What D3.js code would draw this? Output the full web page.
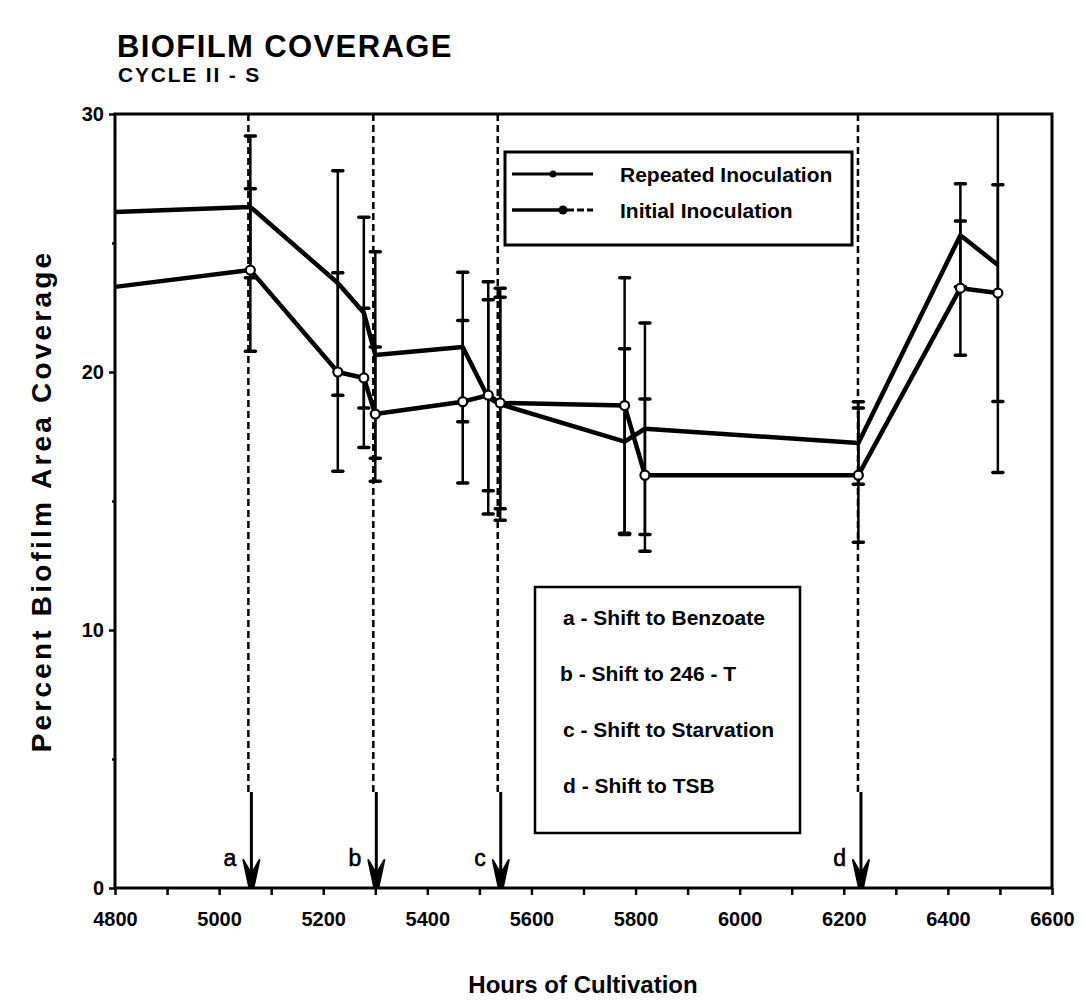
<!DOCTYPE html>
<html>
<head>
<meta charset="utf-8">
<script src="https://cdn.jsdelivr.net/npm/d3@7"></script>
<style>
  html, body { margin: 0; padding: 0; background: #fff; }
  svg { display: block; }
  text { font-family: "Liberation Sans", Arial, Helvetica, sans-serif; fill: #000; }
</style>
</head>
<body>
<svg id="chart" width="1086" height="1003"></svg>
<script>
// Sampling times (hours of cultivation)
const hours = [4800, 5060, 5228, 5278, 5300, 5468, 5517, 5540, 5779, 5818, 6228, 6424, 6496];

// Percent biofilm area coverage for each inoculation scheme
const repeatedValues = [26.2, 26.4, 23.45, 22.3, 20.66, 20.97, 19.0, 18.75, 17.3, 17.8, 17.25, 25.3, 24.15];
const initialValues  = [23.3, 23.95, 20.0, 19.77, 18.37, 18.85, 19.1, 18.8, 18.7, 16.0, 16.0, 23.25, 23.06];

// Half-width of the error bars (null = no bar)
const repeatedErr = [null, 2.75, 4.35, 3.7, 4.0, 2.9, 4.5, 4.5, 3.6, 4.1, 1.6, 2.0, 8.05];
const initialErr  = [null, 3.15, 3.85, 2.7, 2.6, 3.15, 3.7, 4.1, 4.95, 2.95, 2.6, 2.6, 4.2];

// Medium shifts marked by arrows
const eventHours  = [5062, 5302, 5541, 6233];
const eventLabels = ["a", "b", "c", "d"];
const eventNotes  = ["a - Shift to Benzoate", "b - Shift to 246 - T", "c - Shift to Starvation", "d - Shift to TSB"];

// Axis ticks
const xTicks = d3.range(4800, 6601, 100);
const xLabelled = [4800, 5000, 5200, 5400, 5600, 5800, 6000, 6200, 6400, 6600];
const yTicks = [0, 5, 10, 15, 20, 25, 30];
const yLabelled = [0, 10, 20, 30];

const seriesNames = ["Repeated Inoculation", "Initial Inoculation"];

const svg = d3.select("#chart");
svg.append("rect").attr("width", 1086).attr("height", 1003).attr("fill", "#fff");

const x = d3.scaleLinear().domain([4800, 6600]).range([115, 1052]);
const y = d3.scaleLinear().domain([0, 30]).range([888, 114]);

// Titles
svg.append("text").attr("x", 117).attr("y", 57)
  .attr("font-size", 31).attr("font-weight", "bold").attr("letter-spacing", 1.4)
  .text("BIOFILM COVERAGE");
svg.append("text").attr("x", 118).attr("y", 82)
  .attr("font-size", 21).attr("font-weight", "bold").attr("letter-spacing", 1.8)
  .text("CYCLE II - S");

// X axis
const xAxis = d3.axisBottom(x)
  .tickValues(xTicks)
  .tickSize(7)
  .tickPadding(17)
  .tickFormat(d => xLabelled.includes(d) ? String(d) : "");
const gx = svg.append("g").attr("transform", `translate(0,${y(0)})`).call(xAxis);
gx.select(".domain").remove();
gx.selectAll(".tick line").attr("stroke", "#000").attr("stroke-width", 2.5);
gx.selectAll(".tick text").attr("font-size", 20).attr("font-weight", "bold")
  .style("font-family", '"Liberation Sans", Arial, sans-serif');

// Y axis
const yAxis = d3.axisLeft(y)
  .tickValues(yTicks)
  .tickSize(6)
  .tickPadding(5)
  .tickFormat(d => yLabelled.includes(d) ? String(d) : "");
const gy = svg.append("g").attr("transform", `translate(${x(4800)},0)`).call(yAxis);
gy.select(".domain").remove();
gy.selectAll(".tick line").attr("stroke", "#000").attr("stroke-width", 2.5)
  .attr("x2", d => yLabelled.includes(d) ? -6 : -3);
gy.selectAll(".tick text").attr("font-size", 20).attr("font-weight", "bold")
  .style("font-family", '"Liberation Sans", Arial, sans-serif');

// Axis titles
svg.append("text").attr("x", 583).attr("y", 993).attr("text-anchor", "middle")
  .attr("font-size", 24).attr("font-weight", "bold")
  .text("Hours of Cultivation");
svg.append("text")
  .attr("transform", `translate(51,${(y(0) + y(30)) / 2}) rotate(-90)`)
  .attr("text-anchor", "middle")
  .attr("font-size", 28).attr("font-weight", "bold").attr("letter-spacing", 3.2)
  .text("Percent Biofilm Area Coverage");

// Event markers: dashed guide from the top, then a solid arrow down to the axis
const arrowTop = 792;
const ev = svg.append("g");
eventHours.forEach((h, i) => {
  const ex = x(h);
  ev.append("line").attr("x1", ex - 3).attr("x2", ex - 3).attr("y1", y(30)).attr("y2", arrowTop)
    .attr("stroke", "#000").attr("stroke-width", 2.5).attr("stroke-dasharray", "7,4");
  ev.append("line").attr("x1", ex).attr("x2", ex).attr("y1", arrowTop).attr("y2", y(0) - 8)
    .attr("stroke", "#000").attr("stroke-width", 3);
  ev.append("path")
    .attr("d", `M${ex - 8},${y(0) - 28} L${ex},${y(0) - 14} L${ex + 8},${y(0) - 28} L${ex + 2},${y(0)} L${ex - 2},${y(0)} Z`)
    .attr("fill", "#000").attr("stroke", "#000").attr("stroke-width", 2).attr("stroke-linejoin", "round");
  ev.append("text").attr("x", ex - 15).attr("y", 866).attr("text-anchor", "end")
    .attr("font-size", 23).attr("stroke", "#000").attr("stroke-width", 0.6)
    .text(eventLabels[i]);
});

// Error bars
function drawErrors(values, errs) {
  const g = svg.append("g");
  values.forEach((v, i) => {
    const e = errs[i];
    if (e == null) return;
    const cx = x(hours[i]);
    const hi = Math.min(v + e, 30);
    const lo = Math.max(v - e, 0);
    g.append("line").attr("x1", cx).attr("x2", cx).attr("y1", y(hi)).attr("y2", y(lo))
      .attr("stroke", "#000").attr("stroke-width", 2.5);
    [[v + e, hi], [v - e, lo]].forEach(([raw, c]) => {
      if (raw !== c) return;
      g.append("line").attr("x1", cx - 5).attr("x2", cx + 5).attr("y1", y(c)).attr("y2", y(c))
        .attr("stroke", "#000").attr("stroke-width", 3.5).attr("stroke-linecap", "round");
    });
  });
}
drawErrors(repeatedValues, repeatedErr);
drawErrors(initialValues, initialErr);

// Series lines
const line = d3.line().x((d, i) => x(hours[i])).y(d => y(d));
svg.append("path").datum(repeatedValues).attr("d", line)
  .attr("fill", "none").attr("stroke", "#000").attr("stroke-width", 4.5).attr("stroke-linejoin", "round");
svg.append("path").datum(initialValues).attr("d", line)
  .attr("fill", "none").attr("stroke", "#000").attr("stroke-width", 4.5).attr("stroke-linejoin", "round");

// Open circles on the initial-inoculation series (first point sits on the axis)
svg.append("g").selectAll("circle").data(initialValues.slice(1)).join("circle")
  .attr("cx", (d, i) => x(hours[i + 1])).attr("cy", d => y(d)).attr("r", 4.5)
  .attr("fill", "#fff").attr("stroke", "#000").attr("stroke-width", 2.2);

// Plot frame
svg.append("rect").attr("x", x(4800)).attr("y", y(30))
  .attr("width", x(6600) - x(4800)).attr("height", y(0) - y(30))
  .attr("fill", "none").attr("stroke", "#000").attr("stroke-width", 3);

// Series legend
const lg = svg.append("g");
lg.append("rect").attr("x", 505).attr("y", 152).attr("width", 347).attr("height", 93)
  .attr("fill", "#fff").attr("stroke", "#000").attr("stroke-width", 3);
// Repeated: solid line with dot
lg.append("line").attr("x1", 512).attr("x2", 593).attr("y1", 174).attr("y2", 174)
  .attr("stroke", "#000").attr("stroke-width", 3);
lg.append("circle").attr("cx", 553).attr("cy", 174).attr("r", 3.5).attr("fill", "#000");
// Initial: solid then dashed
lg.append("line").attr("x1", 512).attr("x2", 563).attr("y1", 210).attr("y2", 210)
  .attr("stroke", "#000").attr("stroke-width", 3.5);
lg.append("line").attr("x1", 567).attr("x2", 593).attr("y1", 210).attr("y2", 210)
  .attr("stroke", "#000").attr("stroke-width", 3).attr("stroke-dasharray", "7,3");
lg.append("circle").attr("cx", 563).attr("cy", 210).attr("r", 4.5).attr("fill", "#000");
lg.selectAll("text.series").data(seriesNames).join("text")
  .attr("class", "series")
  .attr("x", 620).attr("y", (d, i) => 182 + i * 36)
  .attr("font-size", 21).attr("font-weight", "bold")
  .text(d => d);

// Event legend
const eg = svg.append("g");
eg.append("rect").attr("x", 535).attr("y", 587).attr("width", 265).attr("height", 246)
  .attr("fill", "#fff").attr("stroke", "#000").attr("stroke-width", 2.5);
eg.selectAll("text").data(eventNotes).join("text")
  .attr("x", (d, i) => i === 1 ? 560 : 563)
  .attr("y", (d, i) => 625 + i * 56)
  .attr("font-size", 21).attr("font-weight", "bold")
  .text(d => d);
</script>
</body>
</html>
